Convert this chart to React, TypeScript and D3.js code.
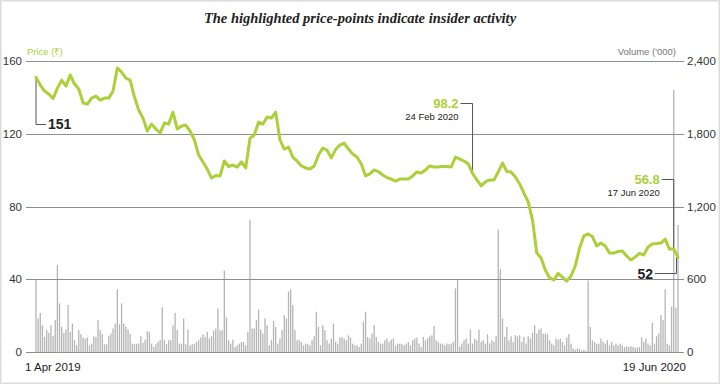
import React from "react";
import * as d3 from "d3";

const TITLE = "The highlighted price-points indicate insider activity";
const PRICE_LABEL = "Price (₹)";
const VOLUME_LABEL = "Volume ('000)";
const priceTicks = [0, 40, 80, 120, 160];
const volumeTicks = [0, 600, 1200, 1800, 2400];
const startDate = "1 Apr 2019";
const endDate = "19 Jun 2020";

// price sampled every second trading day
const price = [
  151, 146.8, 143.5, 141.8, 139.4, 145.1, 149.5, 146.2, 152.3, 147.3,
  144.6, 136.9, 136.3, 139.6, 140.7, 138.5, 139.6, 139.6, 143.5, 156.1,
  153.9, 150.6, 149.5, 140.2, 133.0, 128.6, 121.5, 125.3, 122.6, 120.4,
  125.9, 125.3, 131.9, 122.6, 124.2, 124.8, 121.5, 116.6, 108.3, 104.5,
  100.6, 95.7, 97.0, 96.8, 105.0, 102.0, 102.8, 101.7, 104.5, 101.2,
  117.6, 119.3, 126.4, 125.3, 129.2, 128.6, 131.9, 116.6, 111.6, 112.7,
  107.2, 105.0, 102.3, 101.2, 100.6, 102.3, 108.3, 112.1, 111.0, 106.7,
  111.3, 113.8, 114.9, 111.6, 108.9, 107.2, 103.4, 96.8, 97.9, 100.1,
  99.2, 97.3, 95.9, 95.1, 94.0, 95.1, 95.1, 95.1, 96.8, 99.0,
  98.4, 100.1, 102.3, 101.7, 101.7, 102.0, 102.0, 101.7, 107.2, 106.1,
  105.0, 103.4, 98.2, 94.6, 91.3, 93.5, 94.6, 94.6, 99.0, 103.9,
  99.2, 99.0, 96.2, 92.4, 87.4, 82.5, 72.6, 54.4, 51.7, 45.1,
  40.7, 39.6, 43.2, 41.2, 39.0, 41.8, 47.3, 57.2, 63.8, 64.9,
  63.5, 58.3, 59.9, 58.3, 54.4, 54.4, 55.3, 55.5, 52.8, 50.6,
  52.2, 54.2, 53.3, 57.7, 59.4, 59.6, 59.9, 62.1, 56.6, 56.8, 52,
];

// daily volume ('000)
const volume = [
  600, 276, 323, 221, 124, 180, 158, 221, 130, 263,
  719, 401, 207, 158, 185, 387, 166, 235, 97, 55,
  180, 147, 119, 111, 119, 55, 69, 130, 124, 263,
  180, 147, 64, 64, 130, 152, 194, 235, 517, 229,
  401, 235, 207, 185, 150, 69, 64, 69, 69, 130,
  75, 102, 171, 166, 69, 41, 64, 83, 97, 368,
  97, 64, 97, 97, 221, 323, 180, 69, 69, 276,
  64, 185, 55, 64, 64, 83, 97, 119, 147, 124,
  166, 111, 130, 174, 194, 359, 180, 180, 672, 285,
  97, 69, 102, 41, 55, 69, 83, 83, 55, 166,
  1090, 194, 194, 263, 351, 185, 152, 276, 221, 55,
  97, 257, 207, 69, 111, 180, 304, 276, 498, 517,
  387, 180, 97, 97, 83, 55, 69, 64, 55, 97,
  130, 332, 207, 55, 221, 180, 97, 69, 111, 235,
  83, 69, 119, 124, 111, 97, 138, 119, 69, 55,
  55, 41,
  69, 249, 332, 124, 111, 152, 221, 124,
  83, 69, 69, 97, 111, 83, 102, 111, 55, 69,
  69, 64, 55, 69, 83, 55, 97, 111, 119, 69,
  41, 124, 97, 111, 130, 138, 213, 97, 83, 69,
  69, 55, 69, 64, 69, 83, 525, 600, 41, 69,
  97, 111, 69, 185, 69, 111, 97, 185, 83, 97,
  69, 147, 69, 97, 83, 130, 1010, 683, 276, 124,
  207, 97, 130, 83, 138, 130, 138, 83, 124, 69,
  130, 111, 158, 221, 152, 185, 194, 152, 152, 147,
  97, 69, 55, 111, 102, 111, 83, 55, 119, 147,
  69, 28, 19, 28, 28, 14, 19, 8, 590, 207,
  97, 83, 69, 69, 111, 83, 69, 97, 55, 83,
  55, 69, 55, 69, 55, 41, 47, 41, 47, 41,
  36, 36, 41, 119, 83, 111, 69, 55, 240, 69,
  130, 152, 304, 263, 517, 69, 55, 374, 2160, 363,
  1047,
];

// highlighted price points (index into price array)
const highlightIndex = [102, 149];
const highlightValue = [98.2, 56.8];
const highlightDate = ["24 Feb 2020", "17 Jun 2020"];
const firstValue = "151";
const lastValue = "52";

const GREEN = "#acd03a";
const W = 720;
const H = 384;

export default function App() {
  const x0 = 36;
  const x1 = 678;
  const xDay = d3.scaleLinear().domain([0, volume.length - 1]).range([x0, x1]);
  const xP = d3.scaleLinear().domain([0, price.length - 1]).range([x0, x1]);
  const yP = d3.scaleLinear().domain([0, 160]).range([352, 61]);
  const yV = d3.scaleLinear().domain([0, 2400]).range([352, 61]);

  const line = d3
    .line<number>()
    .x((_, i) => xP(i))
    .y((d) => yP(d));

  const gridL = 26;
  const gridR = 684;
  const sans = "'Liberation Sans', Arial, sans-serif";

  const sx = xP(0);
  const sy = yP(price[0]);
  const ex = xP(price.length - 1);
  const ey = yP(price[price.length - 1]);

  return (
    <svg
      width={W}
      height={H}
      style={{ position: "absolute", left: 0, top: 0, background: "#fff" }}
      fontFamily={sans}
    >
      <rect x={0.75} y={0.75} width={W - 1.5} height={H - 1.5} fill="#fff" stroke="#dcdcdc" strokeWidth={1.5} />
      <text
        x={360}
        y={23}
        textAnchor="middle"
        fontFamily="'Liberation Serif', 'DejaVu Serif', serif"
        fontStyle="italic"
        fontWeight="bold"
        fontSize={14.5}
        fill="#222"
      >
        {TITLE}
      </text>

      {/* volume bars */}
      <g fill="#b5b5b5">
        {volume.map((v, i) => (
          <rect key={i} x={xDay(i) - 0.65} y={yV(v)} width={1.3} height={yV(0) - yV(v)} />
        ))}
      </g>

      {/* grid */}
      <g stroke="#8e8e8e" strokeWidth={1}>
        {priceTicks.map((t) => (
          <line key={t} x1={gridL} x2={gridR} y1={Math.round(yP(t)) + 0.5} y2={Math.round(yP(t)) + 0.5} />
        ))}
      </g>
      <g fontSize={11.5} fill="#333" textAnchor="end">
        {priceTicks.map((t) => (
          <text key={t} x={22} y={yP(t) + 4}>
            {t}
          </text>
        ))}
      </g>
      <g fontSize={11.5} fill="#333" textAnchor="start">
        {volumeTicks.map((t) => (
          <text key={t} x={687} y={yV(t) + 4}>
            {d3.format(",")(t)}
          </text>
        ))}
      </g>
      <text x={27} y={55} fontSize={9.5} fill={GREEN}>
        {PRICE_LABEL}
      </text>
      <text x={676} y={55} fontSize={9.5} fill="#777" textAnchor="end">
        {VOLUME_LABEL}
      </text>
      <text x={25} y={371} fontSize={11.5} fill="#222">
        {startDate}
      </text>
      <text x={686} y={371} fontSize={11.5} fill="#222" textAnchor="end">
        {endDate}
      </text>

      {/* annotation leaders */}
      <g stroke="#555" strokeWidth={1} fill="none">
        <polyline points={`${sx},${sy} ${sx},${124.5} ${sx + 10},${124.5}`} />
        {highlightIndex.map((k, j) => {
          const px = xP(k);
          const py = yP(highlightValue[j]);
          const ly = j === 0 ? 103.5 : 179.5;
          return <polyline key={k} points={`${px - 12},${ly} ${px},${ly} ${px},${py}`} />;
        })}
        <polyline points={`${ex - 1.5},${ey} ${ex - 1.5},${273.5} ${ex - 23},${273.5}`} />
      </g>

      {/* price line */}
      <path d={line(price) || ""} fill="none" stroke={GREEN} strokeWidth={3} strokeLinejoin="round" strokeLinecap="round" />

      {/* annotation labels */}
      <text x={sx + 12} y={129} fontSize={14} fontWeight="bold" fill="#222">
        {firstValue}
      </text>
      {highlightIndex.map((k, j) => {
        const px = xP(k);
        const ly = j === 0 ? 103.5 : 179.5;
        return (
          <g key={k}>
            <text x={px - 14} y={ly + 4.5} fontSize={13} fontWeight="bold" fill={GREEN} textAnchor="end">
              {highlightValue[j]}
            </text>
            <text x={px - 14} y={ly + 16} fontSize={9.5} fill="#222" textAnchor="end">
              {highlightDate[j]}
            </text>
          </g>
        );
      })}
      <text x={ex - 25} y={278.5} fontSize={14} fontWeight="bold" fill="#222" textAnchor="end">
        {lastValue}
      </text>
    </svg>
  );
}
